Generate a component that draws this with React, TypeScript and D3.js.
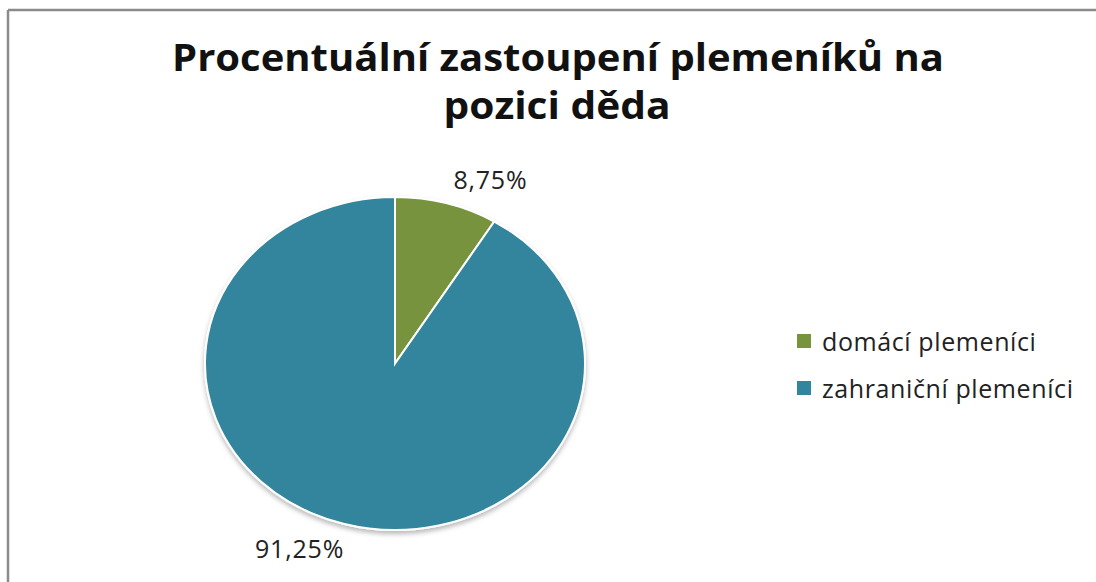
import React from "react";
import * as d3 from "d3";

const categories: string[] = ["domácí plemeníci", "zahraniční plemeníci"];
const values: number[] = [8.75, 91.25];
const valueLabels: string[] = ["8,75%", "91,25%"];
const colors: string[] = ["#77933C", "#31859C"];
const titleLines: string[] = ["Procentuální zastoupení plemeníků na", "pozici děda"];

const W = 1096;
const H = 582;
const cx = 395;
const cy = 363.5;
const rx = 190;
const ry = 166.5;

export default function App() {
  const pie = d3
    .pie<number>()
    .sort(null)
    .value((d) => d)
    .startAngle(0)
    .endAngle(2 * Math.PI);
  const arcs = pie(values);
  const arc = d3.arc<d3.PieArcDatum<number>>().innerRadius(0).outerRadius(ry);
  const sx = rx / ry;

  return (
    <svg
      width={W}
      height={H}
      style={{ position: "absolute", left: 0, top: 0, background: "#fff" }}
    >
      <defs>
        <filter id="sh" x="-20%" y="-20%" width="140%" height="140%">
          <feDropShadow dx="0" dy="3" stdDeviation="2.5" floodColor="#000" floodOpacity="0.28" />
        </filter>
      </defs>
      <rect x={0} y={0} width={W} height={H} fill="#fff" />
      <line x1={8} y1={10} x2={W} y2={10} stroke="#8a8a8a" strokeWidth={2.5} />
      <line x1={8} y1={10} x2={8} y2={H} stroke="#8a8a8a" strokeWidth={2.5} />

      <g fontFamily="'Open Sans', 'DejaVu Sans', sans-serif" fontWeight={700} fill="#111" textAnchor="middle">
        <text x={558} y={71} fontSize={37} textLength={772} lengthAdjust="spacingAndGlyphs">
          {titleLines[0]}
        </text>
        <text x={557} y={119} fontSize={37} textLength={227} lengthAdjust="spacingAndGlyphs">
          {titleLines[1]}
        </text>
      </g>

      <g transform={`translate(${cx},${cy}) scale(${sx},1)`} filter="url(#sh)">
        {arcs.map((a, i) => (
          <path
            key={i}
            d={arc(a) || ""}
            fill={colors[i]}
            stroke="#fff"
            strokeWidth={2}
            vectorEffect="non-scaling-stroke"
          />
        ))}
      </g>

      <g fontFamily="'Open Sans', sans-serif" fontSize={25} letterSpacing={0.8} fill="#222" textAnchor="middle">
        {arcs.map((a, i) => {
          const m = (a.startAngle + a.endAngle) / 2;
          const x = cx + Math.sin(m) * rx * 1.85;
          const y = cy - Math.cos(m) * ry * 1.15;
          return (
            <text key={i} x={x} y={y} dominantBaseline="central">
              {valueLabels[i]}
            </text>
          );
        })}
      </g>

      <g fontFamily="'Open Sans', sans-serif" fontSize={25} letterSpacing={0.6} fill="#222">
        {categories.map((c, i) => (
          <g key={i} transform={`translate(797,${341 + i * 47})`}>
            <rect x={0} y={-7} width={14} height={14} fill={colors[i]} />
            <text x={25} y={0} dominantBaseline="central">
              {c}
            </text>
          </g>
        ))}
      </g>
    </svg>
  );
}
